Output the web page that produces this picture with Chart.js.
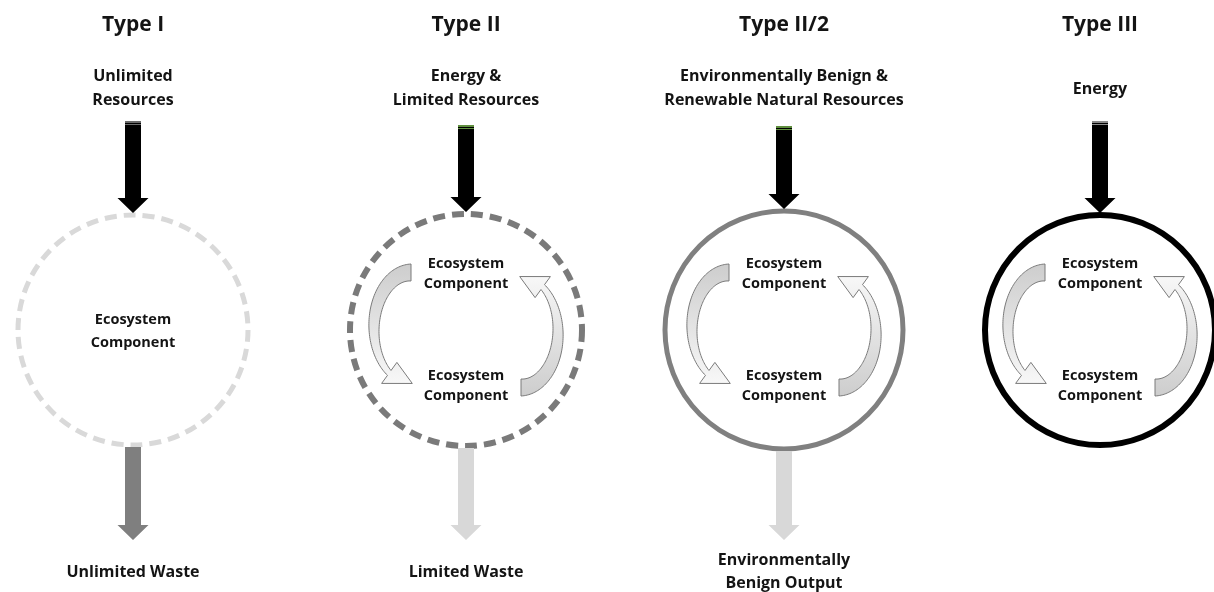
<!DOCTYPE html>
<html>
<head>
<meta charset="utf-8">
<script src="https://cdn.jsdelivr.net/npm/chart.js@4.4.1/dist/chart.umd.min.js"></script>
<style>
  html, body { margin: 0; padding: 0; background: #fff; }
  #wrap { width: 1214px; height: 592px; }
</style>
</head>
<body>
<div id="wrap"><canvas id="diagram"></canvas></div>
<script>
// ═══ DATA ═══
const TYPES = ['Type I', 'Type II', 'Type II/2', 'Type III'];
const INPUTS = [
  ['Unlimited', 'Resources'],
  ['Energy &', 'Limited Resources'],
  ['Environmentally Benign &', 'Renewable Natural Resources'],
  ['Energy']
];
const OUTPUTS = [
  ['Unlimited Waste'],
  ['Limited Waste'],
  ['Environmentally', 'Benign Output'],
  []
];
const BOUNDARY = ['open', 'limited', 'benign', 'closed'];
const CYCLING = [false, true, true, true];
const COMPONENT = ['Ecosystem', 'Component'];

// ═══ LAYOUT ═══
const PANEL_X = [133, 466, 784, 1100];
const CIRCLE_Y = 330;
const RADIUS = [115, 116, 119, 115];
const INPUT_TOP = [121, 125, 126, 121];
const FONT = "'Open Sans', sans-serif";
const TEXT = '#141414';

const BOUNDARY_STYLE = {
  open:    { color: '#d9d9d9', width: 5, dash: [12, 7] },
  limited: { color: '#7a7a7a', width: 6, dash: [12, 7] },
  benign:  { color: '#808080', width: 5, dash: [] },
  closed:  { color: '#000000', width: 6, dash: [] }
};
const OUTPUT_COLOR = { open: '#7f7f7f', limited: '#d8d8d8', benign: '#d8d8d8' };
const STRIPE = ['#6b6b6b', '#5f8f3e', '#5f8f3e', '#8a8a8a'];

// ═══ DRAW HELPERS ═══
function blockArrow(ctx, x, y0, y1, color) {
  const sw = 16, hw = 31, hl = 15;
  ctx.beginPath();
  ctx.moveTo(x - sw / 2, y0);
  ctx.lineTo(x + sw / 2, y0);
  ctx.lineTo(x + sw / 2, y1 - hl);
  ctx.lineTo(x + hw / 2, y1 - hl);
  ctx.lineTo(x, y1);
  ctx.lineTo(x - hw / 2, y1 - hl);
  ctx.lineTo(x - sw / 2, y1 - hl);
  ctx.closePath();
  ctx.fillStyle = color;
  ctx.fill();
}

// curved "cycle" arrow, left one; flip=true gives the right one (rotated 180°)
function curvedArrow(ctx, cx, cy, flip) {
  const ex = -55, ey = -2, rx = 37, ry = 55.5;
  const s = flip ? -1 : 1;
  const P = (deg, d) => {
    const t = deg * Math.PI / 180;
    return [cx + s * (ex + (rx + d) * Math.cos(t)), cy + s * (ey + (ry + d) * Math.sin(t))];
  };
  const t0 = 270, tb = 126, tip = 88;
  const w = t => 17 - 11 * (t0 - t) / (t0 - tb);
  ctx.beginPath();
  for (let t = t0; t >= tb; t -= 2) {
    const p = P(t, w(t) / 2);
    t === t0 ? ctx.moveTo(p[0], p[1]) : ctx.lineTo(p[0], p[1]);
  }
  let p = P(tb, 13); ctx.lineTo(p[0], p[1]);
  p = P(tip, 0); ctx.lineTo(p[0], p[1]);
  p = P(tb, -13); ctx.lineTo(p[0], p[1]);
  for (let t = tb; t <= t0; t += 2) {
    const q = P(t, -w(t) / 2);
    ctx.lineTo(q[0], q[1]);
  }
  ctx.closePath();
  const g = ctx.createLinearGradient(cx, cy - s * 66, cx, cy + s * 55);
  g.addColorStop(0, '#cdcdcd');
  g.addColorStop(1, '#f8f8f8');
  ctx.fillStyle = g;
  ctx.fill();
  ctx.lineWidth = 1;
  ctx.strokeStyle = '#7a7a7a';
  ctx.stroke();
}

function textLines(ctx, lines, x, y, gap) {
  lines.forEach((l, k) => ctx.fillText(l, x, y + k * gap));
}

// ═══ DIAGRAM PLUGIN ═══
const diagramPlugin = {
  id: 'ecoDiagram',
  afterDatasetsDraw(chart) {
    const ctx = chart.ctx;
    const ys = chart.scales.y;
    const meta = chart.getDatasetMeta(0);
    ctx.save();
    ctx.textAlign = 'center';
    ctx.textBaseline = 'middle';

    meta.data.forEach((pt, i) => {
      const cx = pt.x, cy = pt.y, r = RADIUS[i];
      const kind = BOUNDARY[i];
      const st = BOUNDARY_STYLE[kind];

      // boundary circle
      ctx.beginPath();
      ctx.arc(cx, cy, r, 0, Math.PI * 2);
      ctx.setLineDash(st.dash);
      ctx.lineWidth = st.width;
      ctx.strokeStyle = st.color;
      ctx.stroke();
      ctx.setLineDash([]);

      // input arrow
      const top = ys.getPixelForValue(INPUT_TOP[i]);
      blockArrow(ctx, cx, top, cy - r - 2, '#000');
      ctx.fillStyle = STRIPE[i];
      ctx.fillRect(cx - 8, top, 16, 2);
      ctx.fillRect(cx - 8, top + 3, 16, 1);

      // output arrow
      if (OUTPUTS[i].length) {
        blockArrow(ctx, cx, cy + r + 2, ys.getPixelForValue(540), OUTPUT_COLOR[kind]);
      }

      // cycling arrows
      if (CYCLING[i]) {
        curvedArrow(ctx, cx, cy, false);
        curvedArrow(ctx, cx, cy, true);
      }

      // texts
      ctx.fillStyle = TEXT;
      ctx.font = `bold 21px ${FONT}`;
      ctx.fillText(TYPES[i], cx, ys.getPixelForValue(25));

      ctx.font = `bold 16px ${FONT}`;
      if (INPUTS[i].length === 1) ctx.fillText(INPUTS[i][0], cx, ys.getPixelForValue(89));
      else textLines(ctx, INPUTS[i], cx, ys.getPixelForValue(76), 24);

      if (OUTPUTS[i].length === 1) ctx.fillText(OUTPUTS[i][0], cx, ys.getPixelForValue(572));
      else if (OUTPUTS[i].length) textLines(ctx, OUTPUTS[i], cx, ys.getPixelForValue(560), 23);

      ctx.font = `bold 14.5px ${FONT}`;
      if (CYCLING[i]) {
        textLines(ctx, COMPONENT, cx, cy - 66, 20);
        textLines(ctx, COMPONENT, cx, cy + 46, 20);
      } else {
        textLines(ctx, COMPONENT, cx, cy - 10, 23);
      }
    });
    ctx.restore();
  }
};

// ═══ CHART ═══
new Chart(document.getElementById('diagram'), {
  type: 'scatter',
  data: {
    datasets: [{
      label: 'Ecosystem types',
      data: PANEL_X.map(x => ({ x, y: CIRCLE_Y })),
      pointRadius: 0,
      pointHoverRadius: 0
    }]
  },
  options: {
    responsive: true,
    maintainAspectRatio: false,
    animation: false,
    layout: { padding: 0 },
    plugins: { legend: { display: false }, tooltip: { enabled: false } },
    scales: {
      x: { type: 'linear', min: 0, max: 1214, display: false },
      y: { type: 'linear', min: 0, max: 592, reverse: true, display: false }
    }
  },
  plugins: [diagramPlugin]
});
</script>
</body>
</html>
